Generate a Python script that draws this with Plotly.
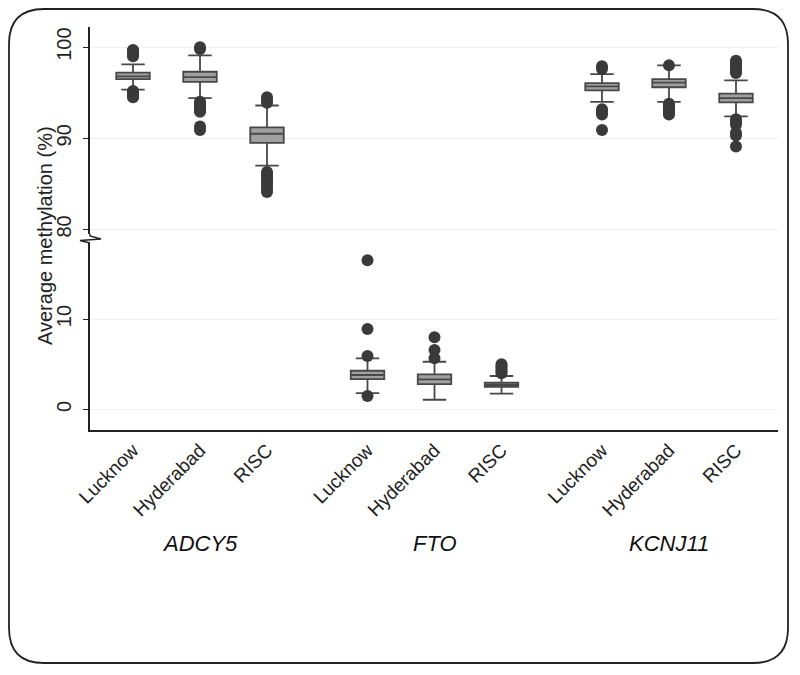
import plotly.graph_objects as go

# ---------------- data ----------------
sites = ["Lucknow", "Hyderabad", "RISC"]
genes = ["ADCY5", "FTO", "KCNJ11"]
positions = [0, 1, 2, 3.5, 4.5, 5.5, 7, 8, 9]
tick_labels = sites * 3

# upper panel (ADCY5, KCNJ11)
upper_pos = [0, 1, 2, 7, 8, 9]
upper_q1 = [96.5, 96.2, 89.5, 95.25, 95.6, 93.95]
upper_median = [96.8, 96.7, 90.5, 95.7, 96.1, 94.4]
upper_q3 = [97.2, 97.3, 91.2, 96.05, 96.5, 94.9]
upper_low = [95.35, 94.4, 87.0, 94.0, 94.0, 92.4]
upper_high = [98.1, 99.1, 93.6, 97.05, 98.0, 96.35]
upper_outliers = [
    [99.0, 99.2, 99.4, 99.6, 99.7, 95.2, 95.0, 94.8, 94.6, 94.5],
    [99.8, 100.0, 94.0, 93.8, 93.6, 93.4, 93.2, 93.0, 92.9, 91.3, 90.9],
    [94.5, 94.2, 93.9, 86.3, 86.0, 85.7, 85.4, 85.1, 84.8, 84.5, 84.1],
    [97.6, 97.9, 93.2, 93.0, 92.8, 92.6, 90.9],
    [98.0, 93.8, 93.6, 93.4, 93.2, 93.0, 92.8, 92.6],
    [98.5, 98.2, 97.9, 97.6, 97.3, 97.15, 92.1, 91.8, 91.5, 90.6, 90.3, 89.1],
]

# lower panel (FTO)
lower_pos = [3.5, 4.5, 5.5]
lower_q1 = [3.35, 2.8, 2.5]
lower_median = [3.8, 3.32, 2.72]
lower_q3 = [4.27, 3.88, 2.95]
lower_low = [1.8, 1.06, 1.73]
lower_high = [5.65, 5.27, 3.69]
lower_outliers = [
    [16.5, 8.9, 5.9, 1.47],
    [7.97, 6.57, 5.65],
    [5.0, 4.8, 4.6, 4.4, 4.2, 4.0],
]

upper_ticks = [80, 90, 100]
lower_ticks = [0, 10]
ytitle = "Average methylation (%)"

# ---------------- layout helpers (page pixel -> paper) ----------------
OFF = 8                     # default body margin of the html page
W, H = 800 - OFF, 675 - OFF
L, R, T, B = 90, 778, 27, 430   # plot area in page pixels


def px(x):
    return (x - L) / (R - L)


def py(y):
    return (B - y) / (B - T)


FONT = "Liberation Sans, Arial, sans-serif"
BOX_FILL = "#a0a0a0"
BOX_LINE = "#484848"
DOT = "#3a3a3a"

fig = go.Figure()

for i, p in enumerate(upper_pos):
    fig.add_trace(go.Box(
        x=[p], q1=[upper_q1[i]], median=[upper_median[i]], q3=[upper_q3[i]],
        lowerfence=[upper_low[i]], upperfence=[upper_high[i]],
        width=0.5, whiskerwidth=0.7, fillcolor=BOX_FILL,
        line=dict(color=BOX_LINE, width=1.8), boxpoints=False,
        xaxis="x", yaxis="y2", showlegend=False, hoverinfo="skip"))
    fig.add_trace(go.Scatter(
        x=[p] * len(upper_outliers[i]), y=upper_outliers[i], mode="markers",
        marker=dict(color=DOT, size=12, line=dict(width=0)),
        xaxis="x", yaxis="y2", showlegend=False, hoverinfo="skip"))

for i, p in enumerate(lower_pos):
    fig.add_trace(go.Box(
        x=[p], q1=[lower_q1[i]], median=[lower_median[i]], q3=[lower_q3[i]],
        lowerfence=[lower_low[i]], upperfence=[lower_high[i]],
        width=0.5, whiskerwidth=0.7, fillcolor=BOX_FILL,
        line=dict(color=BOX_LINE, width=1.8), boxpoints=False,
        xaxis="x", yaxis="y", showlegend=False, hoverinfo="skip"))
    fig.add_trace(go.Scatter(
        x=[p] * len(lower_outliers[i]), y=lower_outliers[i], mode="markers",
        marker=dict(color=DOT, size=12, line=dict(width=0)),
        xaxis="x", yaxis="y", showlegend=False, hoverinfo="skip"))

axis_common = dict(
    showline=True, linecolor="#222222", linewidth=1.6,
    ticks="outside", ticklen=5, tickwidth=1.4, tickcolor="#222222",
    tickangle=-90, tickfont=dict(family=FONT, size=20, color="#222222"),
    ticklabelstandoff=4,
    showgrid=True, gridcolor="#eeeeee", gridwidth=1, zeroline=False,
)

upper_px_bottom = 234
lower_px_top = 243

fig.update_layout(
    width=W, height=H,
    margin=dict(l=L - OFF, r=800 - R, t=T - OFF, b=675 - B),
    paper_bgcolor="white", plot_bgcolor="white",
    showlegend=False,
    xaxis=dict(
        domain=[0, 1], range=[-0.642, 9.627],
        tickmode="array", tickvals=positions, ticktext=tick_labels,
        tickangle=-45, tickfont=dict(family=FONT, size=19, color="#222222"),
        showline=True, linecolor="#222222", linewidth=1.6,
        ticks="", showgrid=False, zeroline=False, anchor="y",
    ),
    yaxis=dict(
        domain=[0, py(lower_px_top)], range=[-2.29, 18.42],
        tickmode="array", tickvals=lower_ticks, anchor="x",
        **axis_common,
    ),
    yaxis2=dict(
        domain=[py(upper_px_bottom), 1], range=[79.5, 102.21],
        tickmode="array", tickvals=upper_ticks, anchor="x",
        **axis_common,
    ),
)

# axis break zigzag
zig = (f"M {px(90)},{py(upper_px_bottom)} L {px(90)},{py(236)} "
       f"L {px(101)},{py(239)} L {px(80)},{py(240.5)} "
       f"L {px(90)},{py(lower_px_top)}")
fig.add_shape(type="path", path=zig, xref="paper", yref="paper",
              line=dict(color="#222222", width=1.4))

# rounded outer frame
x0, y0, x1, y1, r = 9, 9, 788, 663, 35
frame = (f"M {px(x0 + r)},{py(y0)} L {px(x1 - r)},{py(y0)} "
         f"Q {px(x1)},{py(y0)} {px(x1)},{py(y0 + r)} "
         f"L {px(x1)},{py(y1 - r)} Q {px(x1)},{py(y1)} {px(x1 - r)},{py(y1)} "
         f"L {px(x0 + r)},{py(y1)} Q {px(x0)},{py(y1)} {px(x0)},{py(y1 - r)} "
         f"L {px(x0)},{py(y0 + r)} Q {px(x0)},{py(y0)} {px(x0 + r)},{py(y0)} Z")
fig.add_shape(type="path", path=frame, xref="paper", yref="paper",
              line=dict(color="#222222", width=1.8), layer="above")

# y-axis title
fig.add_annotation(text=ytitle, xref="paper", yref="paper",
                   x=px(45), y=py(236), textangle=-90, showarrow=False,
                   xanchor="center", yanchor="middle",
                   font=dict(family=FONT, size=20, color="#222222"))

# gene group labels
for g, gx in zip(genes, [1, 4.5, 8]):
    fig.add_annotation(text=f"<i>{g}</i>", xref="x", yref="paper",
                       x=gx, y=py(543), showarrow=False,
                       xanchor="center", yanchor="middle",
                       font=dict(family=FONT, size=22, color="#111111"))

fig.write_html("out.html")
